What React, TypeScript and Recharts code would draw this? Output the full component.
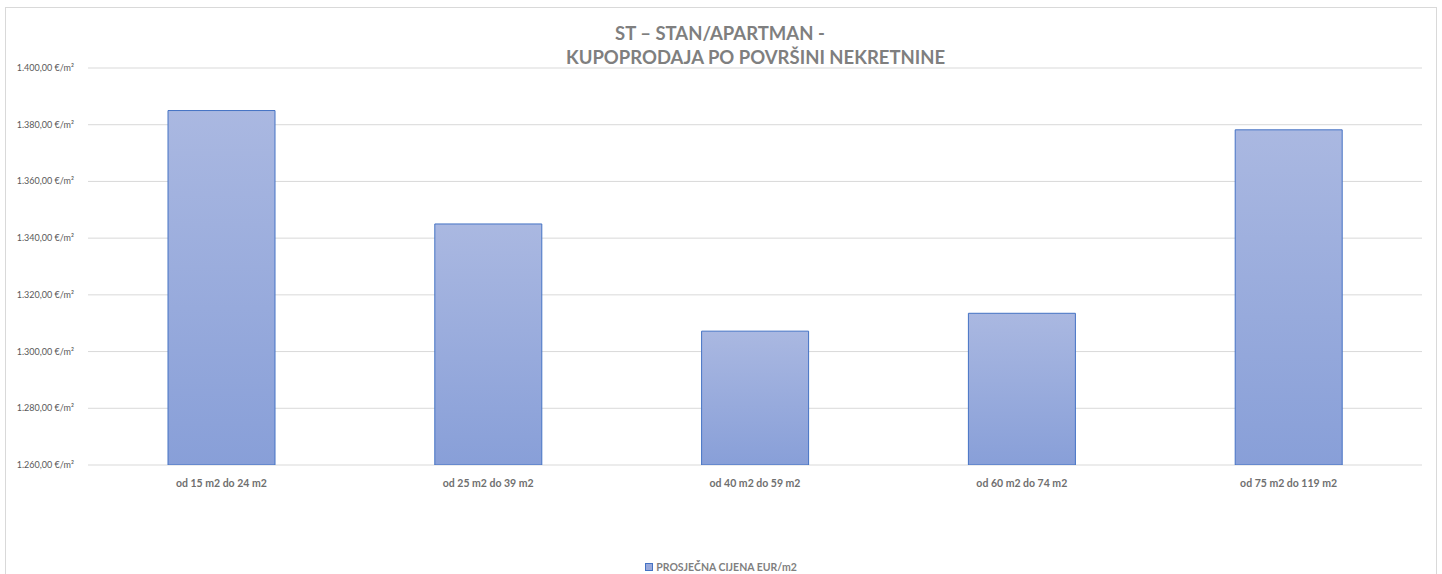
import React from 'react';
import { BarChart, Bar, XAxis, YAxis, CartesianGrid } from 'recharts';

const categories = ['od 15 m2 do 24 m2', 'od 25 m2 do 39 m2', 'od 40 m2 do 59 m2', 'od 60 m2 do 74 m2', 'od 75 m2 do 119 m2'];
const prices = [1385, 1345, 1307.2, 1313.5, 1378.2];
const yTicks = [1260, 1280, 1300, 1320, 1340, 1360, 1380, 1400];

const data = categories.map((name, i) => ({ name, price: prices[i] }));

const fmtEur = (v: number) => {
  const [int, dec] = v.toFixed(2).split('.');
  const withDots = int.replace(/\B(?=(\d{3})+(?!\d))/g, '.');
  return `${withDots},${dec} €/m²`;
};

const FONT = 'Lato, "Open Sans", sans-serif';

const YTick = (props: any) => {
  const { x, y, payload } = props;
  return (
    <text x={x - 6} y={y} dy={3} textAnchor="end" fontSize={9} fill="#595959" fontFamily={FONT}>
      {fmtEur(payload.value)}
    </text>
  );
};

const XTick = (props: any) => {
  const { x, y, payload } = props;
  return (
    <text x={x} y={y} dy={14} textAnchor="middle" fontSize={10.5} fontWeight={700} fill="#6f6f6f" fontFamily={FONT}>
      {payload.value}
    </text>
  );
};

export default function App() {
  return (
    <div style={{ position: 'absolute', left: 0, top: 0, width: 1442, height: 574, background: '#fff', overflow: 'hidden' }}>
      <div style={{ position: 'absolute', left: 5, top: 7, width: 1430, height: 600, border: '1px solid #d9d9d9' }} />
      <div style={{ position: 'absolute', left: 0, top: 0 }}>
        <BarChart width={1442} height={574} data={data} margin={{ top: 68, right: 20, left: 0, bottom: 79 }}>
          <defs>
            <linearGradient id="barGrad" x1="0" y1="0" x2="0" y2="1">
              <stop offset="0%" stopColor="#aab8e1" />
              <stop offset="100%" stopColor="#889fd8" />
            </linearGradient>
          </defs>
          <CartesianGrid vertical={false} stroke="#d9d9d9" />
          <XAxis dataKey="name" axisLine={false} tickLine={false} height={30} tick={<XTick />} />
          <YAxis
            width={88}
            domain={[1260, 1400]}
            ticks={yTicks}
            allowDataOverflow
            axisLine={false}
            tickLine={false}
            tick={<YTick />}
          />
          <Bar dataKey="price" name="PROSJEČNA CIJENA EUR/m2" fill="url(#barGrad)" stroke="#4472c4" strokeWidth={1} barSize={107} isAnimationActive={false} />
        </BarChart>
      </div>
      <div style={{ position: 'absolute', left: 615, top: 21, fontFamily: FONT, fontSize: 18.5, fontWeight: 700, color: '#7f7f7f', lineHeight: '24px', whiteSpace: 'nowrap' }}>
        ST – STAN/APARTMAN -
      </div>
      <div style={{ position: 'absolute', left: 566, top: 45, fontFamily: FONT, fontSize: 18.5, fontWeight: 700, color: '#7f7f7f', lineHeight: '24px', whiteSpace: 'nowrap' }}>
        KUPOPRODAJA PO POVRŠINI NEKRETNINE
      </div>
      <div style={{ position: 'absolute', left: 0, top: 560, width: 1442, display: 'flex', justifyContent: 'center', alignItems: 'center', fontFamily: FONT, fontSize: 10.5, fontWeight: 700, color: '#7f7f7f', lineHeight: '14px' }}>
        <span style={{ display: 'inline-block', width: 6, height: 6, background: '#98a9dc', border: '1px solid #4472c4', marginRight: 3 }} />
        PROSJEČNA CIJENA EUR/m2
      </div>
    </div>
  );
}
